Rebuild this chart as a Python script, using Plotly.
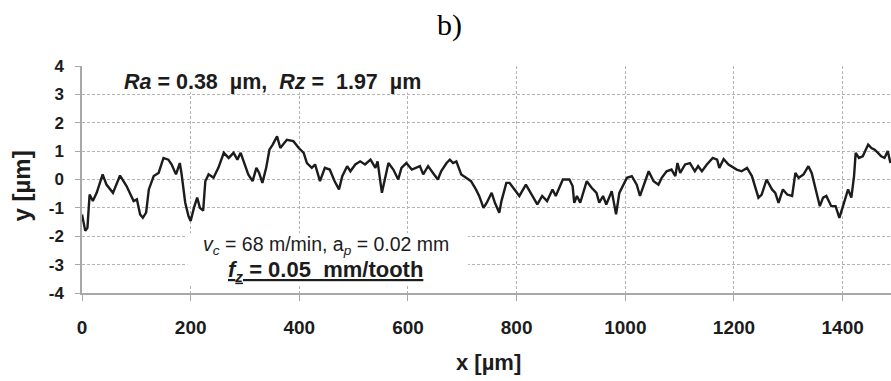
import plotly.graph_objects as go

# Profile data (x in µm, y in µm)
x_um = [0, 6, 10, 14, 20, 27, 38, 45, 57, 70, 82, 95, 101, 107, 112, 118, 123, 132, 141, 150,
        159, 165, 173, 180, 183, 190, 196, 200, 206, 212, 217, 223, 227, 233, 242, 251, 261, 270,
        279, 286, 292, 300, 306, 314, 321, 326, 332, 339, 345, 351, 359, 365, 377, 389, 399, 408,
        414, 423, 429, 438, 447, 456, 465, 473, 479, 488, 494, 503, 512, 521, 531, 540, 544, 552,
        558, 564, 573, 582, 588, 597, 607, 613, 622, 628, 637, 646, 655, 661, 671, 677, 683, 689,
        698, 707, 716, 725, 731, 739, 745, 754, 760, 768, 772, 781, 787, 796, 805, 817, 826, 838,
        847, 856, 866, 872, 885, 897, 903, 906, 911, 917, 929, 938, 947, 952, 959, 965, 975, 983,
        989, 996, 1003, 1012, 1021, 1027, 1037, 1043, 1052, 1061, 1067, 1076, 1085, 1092, 1096,
        1101, 1110, 1119, 1128, 1134, 1141, 1150, 1161, 1169, 1173, 1181, 1190, 1199, 1205, 1214,
        1224, 1233, 1239, 1245, 1251, 1260, 1270, 1276, 1282, 1290, 1298, 1307, 1313, 1319, 1328,
        1337, 1343, 1351, 1358, 1364, 1370, 1379, 1387, 1394, 1399, 1406, 1410, 1416, 1421, 1424,
        1430, 1437, 1447, 1453, 1459, 1465, 1471, 1477, 1483, 1488]
y_um = [-1.23, -1.81, -1.70, -0.53, -0.76, -0.47, 0.18, -0.18, -0.47, 0.14, -0.23, -0.76, -0.70,
        -1.23, -1.35, -1.17, -0.35, 0.12, 0.23, 0.76, 0.70, 0.53, 0.18, 0.58, 0.23, -0.82, -1.29,
        -1.46, -1.00, -0.64, -1.00, -1.10, -0.06, 0.18, 0.06, 0.41, 0.94, 0.76, 0.94, 0.70, 0.94,
        0.53, 0.18, -0.06, 0.41, 0.23, -0.12, 0.41, 1.05, 1.23, 1.52, 1.11, 1.40, 1.35, 1.11, 0.94,
        0.58, 0.41, 0.53, -0.06, 0.41, 0.35, -0.06, -0.35, 0.12, 0.47, 0.29, 0.53, 0.64, 0.53, 0.70,
        0.41, 0.64, -0.47, 0.12, 0.58, 0.35, 0.00, 0.41, 0.58, 0.35, 0.41, 0.47, 0.18, 0.47, 0.23,
        0.00, 0.29, 0.58, 0.70, 0.58, 0.64, 0.18, 0.06, -0.06, -0.35, -0.58, -1.00, -0.82, -0.47,
        -0.82, -1.17, -0.76, -0.12, -0.12, -0.35, -0.58, -0.18, -0.47, -0.88, -0.58, -0.76, -0.35,
        -0.58, 0.00, 0.00, -0.23, -0.82, -0.58, -0.82, -0.06, -0.29, -0.47, -0.82, -0.58, -0.88,
        -0.41, -1.23, -0.47, -0.23, 0.06, 0.12, -0.18, -0.58, -0.06, 0.29, -0.06, -0.18, 0.06, 0.29,
        0.35, 0.12, 0.58, 0.23, 0.53, 0.58, 0.29, 0.47, 0.29, 0.53, 0.76, 0.70, 0.41, 0.72, 0.53,
        0.41, 0.35, 0.29, 0.41, 0.12, -0.23, -0.64, -0.53, 0.00, -0.35, -0.47, -0.82, -0.35, -0.53,
        -0.58, 0.23, 0.06, 0.18, 0.47, 0.23, -0.41, -0.94, -0.64, -0.58, -0.94, -0.94, -1.35, -1.05,
        -0.58, -0.35, -0.64, 0.12, 0.94, 0.76, 0.82, 1.23, 1.11, 1.05, 0.94, 0.82, 0.76, 1.00, 0.58]

x_ticks = [0, 200, 400, 600, 800, 1000, 1200, 1400]
y_ticks = [4, 3, 2, 1, 0, -1, -2, -3, -4]
y_tick_labels = ["4", "3", "2", "1", "0", "-1", "-2", "-3", "-4"]

panel_label = "b)"
x_title = "x [µm]"
y_title = "y [µm]"
roughness_text = "<b><i>Ra</i> = 0.38  µm,  <i>Rz</i> =  1.97  µm</b>"
cond_line1 = "<i>v<sub>c</sub></i> = 68 m/min, a<sub><i>p</i></sub> = 0.02 mm"
cond_line2 = "<b><u><i>f<sub>z</sub></i> = 0.05  mm/tooth</u></b>"

SANS = "Liberation Sans, Arial, sans-serif"
GRID = "#b4b4b4"
AXIS = "#a8a8a8"
INK = "#1c1c1c"

fig = go.Figure()
fig.add_trace(go.Scatter(x=x_um, y=y_um, mode="lines",
                         line=dict(color=INK, width=2.4), showlegend=False,
                         hoverinfo="skip"))

fig.update_layout(
    width=891, height=381,
    margin=dict(l=82, r=0, t=66, b=88),
    paper_bgcolor="white", plot_bgcolor="white",
    showlegend=False,
    xaxis=dict(range=[0, 1489], tickvals=x_ticks, ticktext=[str(v) for v in x_ticks],
               showgrid=True, gridcolor=GRID, gridwidth=1, griddash="3px,2px",
               showline=True, linecolor=AXIS, linewidth=1.5,
               ticks="outside", ticklen=6, tickcolor=AXIS, tickwidth=1.2,
               tickfont=dict(family=SANS, size=19, color=INK, weight="bold"),
               ticklabelstandoff=10, zeroline=False, fixedrange=True),
    yaxis=dict(range=[-4, 4], tickvals=y_ticks, ticktext=y_tick_labels,
               showgrid=True, gridcolor=GRID, gridwidth=1, griddash="3px,2px",
               showline=True, linecolor=AXIS, linewidth=1.5,
               ticks="outside", ticklen=5, tickcolor=AXIS, tickwidth=1.2,
               tickfont=dict(family=SANS, size=17, color=INK, weight="bold"),
               ticklabelstandoff=8, zeroline=False, fixedrange=True),
)

# White boxes behind the text blocks (they hide the gridlines as in the source)
fig.add_shape(type="rect", xref="paper", yref="paper", x0=0.0164, x1=0.4576, y0=0.883, y1=1.05,
              fillcolor="white", line=dict(width=0), layer="above")
fig.add_shape(type="rect", xref="paper", yref="paper", x0=0.1302, x1=0.4773, y0=0.040, y1=0.2633,
              fillcolor="white", line=dict(width=0), layer="above")

ann = [
    dict(text=panel_label, x=0.4539, y=1.181, font=dict(family="Liberation Serif, serif", size=30, color="black")),
    dict(text=roughness_text, x=0.2352, y=0.931, font=dict(family=SANS, size=21.5, color=INK)),
    dict(text=cond_line1, x=0.3018, y=0.210, font=dict(family=SANS, size=19.5, color=INK)),
    dict(text=cond_line2, x=0.3007, y=0.095, font=dict(family=SANS, size=22, color=INK)),
    dict(text="<b>" + x_title + "</b>", x=0.502, y=-0.306, font=dict(family=SANS, size=22, color=INK)),
    dict(text="<b>" + y_title + "</b>", x=-0.075, y=0.4707, textangle=-90,
         font=dict(family=SANS, size=24, color=INK)),
]
for a in ann:
    fig.add_annotation(xref="paper", yref="paper", showarrow=False,
                       xanchor="center", yanchor="middle", **a)

fig.write_html("out.html", config={"displayModeBar": False},
               post_script="document.body.style.margin='0';document.body.style.padding='0';")
